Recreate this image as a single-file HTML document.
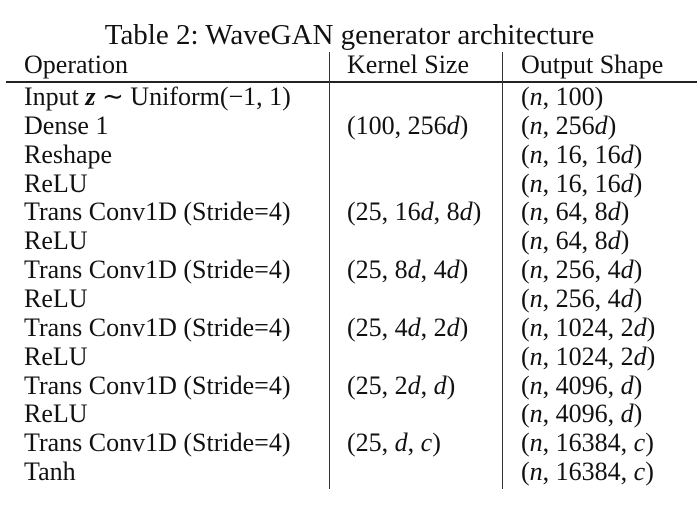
<!DOCTYPE html>
<html><head><meta charset="utf-8"><style>
body{margin:0;width:699px;height:514px;background:#fff;position:relative;overflow:hidden;font-family:"Liberation Serif",serif;color:#111}
.t{position:absolute;white-space:nowrap;font-size:26px;line-height:26px}
i{font-style:italic}
</style></head><body>
<div class="t" style="left:0;width:699px;text-align:center;top:20px;font-size:29px;line-height:30px">Table 2: WaveGAN generator architecture</div>
<div style="position:absolute;left:6px;top:81px;width:691px;height:1.5px;background:#222"></div>
<div style="position:absolute;left:329px;top:52px;width:1.2px;height:437px;background:#333"></div>
<div style="position:absolute;left:502px;top:52px;width:1.2px;height:437px;background:#333"></div>
<div id="tbl"></div>
<script>
const ops=["Input <i><b>z</b></i> ∼ Uniform(−1, 1)","Dense 1","Reshape","ReLU","Trans Conv1D (Stride=4)","ReLU","Trans Conv1D (Stride=4)","ReLU","Trans Conv1D (Stride=4)","ReLU","Trans Conv1D (Stride=4)","ReLU","Trans Conv1D (Stride=4)","Tanh"];
const kernels=["","(100, 256<i>d</i>)","","","(25, 16<i>d</i>, 8<i>d</i>)","","(25, 8<i>d</i>, 4<i>d</i>)","","(25, 4<i>d</i>, 2<i>d</i>)","","(25, 2<i>d</i>, <i>d</i>)","","(25, <i>d</i>, <i>c</i>)",""];
const shapes=["(<i>n</i>, 100)","(<i>n</i>, 256<i>d</i>)","(<i>n</i>, 16, 16<i>d</i>)","(<i>n</i>, 16, 16<i>d</i>)","(<i>n</i>, 64, 8<i>d</i>)","(<i>n</i>, 64, 8<i>d</i>)","(<i>n</i>, 256, 4<i>d</i>)","(<i>n</i>, 256, 4<i>d</i>)","(<i>n</i>, 1024, 2<i>d</i>)","(<i>n</i>, 1024, 2<i>d</i>)","(<i>n</i>, 4096, <i>d</i>)","(<i>n</i>, 4096, <i>d</i>)","(<i>n</i>, 16384, <i>c</i>)","(<i>n</i>, 16384, <i>c</i>)"];
const tb=document.getElementById('tbl');
function cell(x,y,html){const d=document.createElement('div');d.className='t';d.style.left=x+'px';d.style.top=y+'px';d.innerHTML=html;tb.appendChild(d);return d;}
let h;
h=cell(24,52,"Operation");


h=cell(347,52,"Kernel Size");


h=cell(521,52,"Output Shape");


ops.forEach((o,i)=>{
 const y=84+i*28.85;
 let a=cell(24,y,o);
 
 
 if(kernels[i]){let b=cell(347,y,kernels[i]);
 
 }
 let c=cell(521,y,shapes[i]);
 
 
});
</script>
</body></html>
